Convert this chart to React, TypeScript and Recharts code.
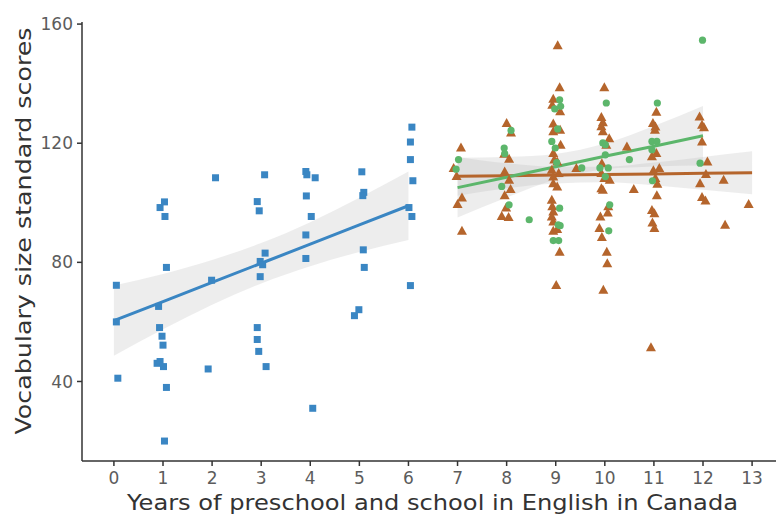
import React from "react";
import {
  ComposedChart,
  Scatter,
  Line,
  Area,
  XAxis,
  YAxis,
} from "recharts";

//========== Scores by years of schooling (x = years, y = score) ==========
const preschoolScores: [number, number][] = [
  [0.05, 72.3], [0.05, 60.0], [0.08, 41.1],
  [0.94, 98.4], [1.03, 100.3], [1.04, 95.4], [1.07, 78.3], [0.91, 65.2],
  [0.93, 58.1], [0.98, 55.2], [1.0, 52.2], [0.94, 46.7], [0.88, 46.1],
  [1.01, 45.0], [1.07, 38.0], [1.03, 20.0],
  [2.07, 108.4], [1.99, 74.0], [1.92, 44.2],
  [3.07, 109.4], [2.92, 100.4], [2.96, 97.3], [2.98, 80.3], [3.03, 79.2],
  [3.08, 83.1], [2.98, 75.2], [2.92, 58.1], [2.92, 54.1], [2.95, 50.1],
  [3.1, 45.0],
  [3.91, 110.5], [3.93, 109.4], [4.1, 108.4], [3.92, 102.3], [4.02, 95.4],
  [3.91, 89.2], [3.91, 81.3], [4.05, 31.0],
  [5.05, 110.4], [5.09, 103.5], [5.07, 102.4], [5.08, 84.2], [5.1, 78.3],
  [4.99, 64.1], [4.9, 62.1],
  [6.07, 125.4], [6.04, 120.4], [6.04, 114.5], [6.09, 107.4], [6.01, 98.4],
  [6.07, 95.4], [6.04, 72.2],
];

const schoolScoresA: [number, number][] = [
  [7.07, 118.6], [6.92, 111.7], [6.98, 109.0], [7.09, 101.8], [7.0, 99.6],
  [7.09, 90.6],
  [8.0, 126.8], [8.09, 123.6], [7.95, 116.5], [8.05, 114.8], [7.96, 110.5],
  [8.05, 107.7], [8.08, 104.6], [7.96, 102.5], [7.99, 98.4], [7.9, 95.6],
  [8.04, 95.2],
  [9.04, 152.9], [9.08, 138.8], [8.95, 134.9], [8.93, 132.9], [9.09, 130.7],
  [8.95, 126.6], [8.95, 124.0], [9.09, 124.5], [9.1, 119.5], [8.95, 116.7],
  [8.97, 114.5], [9.03, 113.9], [8.92, 111.1], [9.06, 110.0], [8.95, 108.8],
  [8.95, 106.6], [9.03, 105.5], [8.92, 101.0], [8.93, 98.8], [8.95, 97.1],
  [8.92, 95.4], [8.95, 93.7], [8.95, 90.6], [9.03, 91.2], [9.08, 83.6],
  [9.01, 72.4], [9.42, 111.7],
  [9.99, 138.8], [9.93, 128.8], [9.96, 127.0], [9.93, 125.7], [9.96, 124.0],
  [10.09, 121.7], [10.03, 119.5], [10.45, 118.9], [9.94, 113.3], [9.93, 110.0],
  [9.99, 108.3], [10.1, 107.7], [9.93, 104.9], [9.96, 104.4], [10.59, 104.6],
  [10.07, 98.8], [10.06, 96.7], [9.91, 95.4], [9.89, 91.5], [9.94, 88.5],
  [10.04, 83.6], [10.05, 79.7], [9.97, 70.8],
  [11.05, 130.6], [10.98, 126.8], [11.03, 125.6], [11.02, 124.5], [10.96, 115.6],
  [11.05, 116.7], [10.99, 110.9], [11.11, 111.7], [11.03, 108.3], [11.07, 106.4],
  [11.06, 102.5], [10.96, 97.6], [11.01, 96.5], [10.97, 93.4], [11.01, 91.5],
  [10.94, 51.5],
  [11.93, 129.0], [11.98, 126.2], [12.02, 125.4], [11.98, 120.6], [12.09, 113.9],
  [12.06, 109.7], [11.94, 106.6], [12.42, 107.7], [11.98, 101.9], [12.05, 100.8],
  [12.93, 99.6], [12.45, 92.6],
];

const schoolScoresB: [number, number][] = [
  [7.02, 114.5], [6.97, 111.3],
  [8.09, 124.3], [7.95, 118.4], [7.96, 116.5], [7.9, 105.5], [8.05, 99.3],
  [8.46, 94.3],
  [9.08, 134.6], [8.98, 131.5], [9.1, 132.4], [9.04, 124.8], [8.92, 120.6],
  [8.99, 118.4], [9.02, 113.5], [9.53, 111.7], [9.08, 98.2], [9.05, 92.6],
  [9.09, 92.3], [8.95, 87.3], [9.06, 87.3],
  [10.03, 133.5], [9.96, 120.1], [10.01, 119.5], [10.01, 116.1], [9.9, 111.7],
  [10.07, 111.7], [10.5, 114.5], [10.01, 108.8], [10.1, 99.3], [10.08, 90.6],
  [11.07, 133.5], [10.96, 120.6], [11.06, 120.6], [10.96, 117.8], [10.97, 107.4],
  [11.99, 154.6], [11.94, 113.3],
];

//========== Fitted lines with confidence bands (x, fit, lower, upper) ==========
const preschoolFit: [number, number, number, number][] = [
  [0, 60.4, 48.6, 72.2],
  [1, 66.8, 57.5, 76.1],
  [2, 73.3, 65.8, 80.8],
  [3, 79.7, 72.9, 86.5],
  [4, 86.1, 78.7, 93.5],
  [5, 92.6, 83.5, 101.7],
  [6, 99.0, 87.5, 110.5],
];

const schoolFitA: [number, number, number, number][] = [
  [7, 108.9, 102.4, 115.4],
  [8, 109.1, 104.9, 113.3],
  [9, 109.3, 106.5, 112.1],
  [10, 109.5, 106.9, 112.1],
  [11, 109.7, 105.9, 113.5],
  [12, 109.9, 104.4, 115.4],
  [13, 110.1, 102.9, 117.3],
];

const schoolFitB: [number, number, number, number][] = [
  [7, 105.1, 95.1, 115.1],
  [8, 108.6, 101.8, 115.4],
  [9, 112.1, 107.8, 116.4],
  [10, 115.6, 111.3, 119.9],
  [11, 119.0, 112.2, 125.8],
  [12, 122.5, 112.5, 132.5],
];

const xTicks = [0, 1, 2, 3, 4, 5, 6, 7, 8, 9, 10, 11, 12, 13];
const yTicks = [40, 80, 120, 160];

const BLUE = "#3a86c3";
const BROWN = "#b5652c";
const GREEN = "#5cb66b";
const FONT = "'DejaVu Sans', sans-serif";

const toPoints = (rows: [number, number][]) => rows.map(([x, y]) => ({ x, y }));
const toFit = (rows: [number, number, number, number][]) =>
  rows.map(([x, y, lo, hi]) => ({ x, y, band: [lo, hi] }));

//========== Marker shapes ==========
const SquareMark = (props: any) => (
  <rect x={props.cx - 3.5} y={props.cy - 3.5} width={7} height={7} fill={BLUE} />
);
const TriangleMark = (props: any) => (
  <path
    d={`M${props.cx},${props.cy - 5} L${props.cx + 5},${props.cy + 4} L${props.cx - 5},${props.cy + 4} Z`}
    fill={BROWN}
  />
);
const CircleMark = (props: any) => (
  <circle cx={props.cx} cy={props.cy} r={3.6} fill={GREEN} />
);

const tickStyle = { fontFamily: FONT, fontSize: 17, fill: "#5c5c5c" };

const App: React.FC = () => {
  return (
    <div
      style={{
        position: "fixed",
        left: 0,
        top: 0,
        width: 776,
        height: 516,
        overflow: "hidden",
        background: "#fff",
      }}
    >
      <ComposedChart
        width={800}
        height={516}
        margin={{ top: 22, right: 16, bottom: 0, left: 0 }}
      >
        <XAxis
          type="number"
          dataKey="x"
          domain={[-0.65, 13.65]}
          ticks={xTicks}
          allowDataOverflow
          height={55}
          tickSize={5}
          tickMargin={6}
          tick={tickStyle}
          stroke="#333"
          strokeWidth={1.5}
        />
        <YAxis
          type="number"
          dataKey="y"
          domain={[13.3, 160.7]}
          ticks={yTicks}
          allowDataOverflow
          width={82}
          tickSize={5}
          tickMargin={4}
          tick={tickStyle}
          stroke="#333"
          strokeWidth={1.5}
        />

        {/*========== Points ==========*/}
        <Scatter data={toPoints(preschoolScores)} dataKey="y" shape={SquareMark} isAnimationActive={false} />
        <Scatter data={toPoints(schoolScoresA)} dataKey="y" shape={TriangleMark} isAnimationActive={false} />
        <Scatter data={toPoints(schoolScoresB)} dataKey="y" shape={CircleMark} isAnimationActive={false} />

        {/*========== Confidence bands ==========*/}
        <Area data={toFit(preschoolFit)} dataKey="band" type="monotone" stroke="none" fill="#b8b8b8" fillOpacity={0.25} isAnimationActive={false} />
        <Area data={toFit(schoolFitA)} dataKey="band" type="monotone" stroke="none" fill="#b8b8b8" fillOpacity={0.25} isAnimationActive={false} />
        <Area data={toFit(schoolFitB)} dataKey="band" type="monotone" stroke="none" fill="#b8b8b8" fillOpacity={0.25} isAnimationActive={false} />

        {/*========== Fitted lines ==========*/}
        <Line data={toFit(preschoolFit)} dataKey="y" stroke={BLUE} strokeWidth={3} dot={false} activeDot={false} isAnimationActive={false} />
        <Line data={toFit(schoolFitA)} dataKey="y" stroke={BROWN} strokeWidth={3} dot={false} activeDot={false} isAnimationActive={false} />
        <Line data={toFit(schoolFitB)} dataKey="y" stroke={GREEN} strokeWidth={3} dot={false} activeDot={false} isAnimationActive={false} />
      </ComposedChart>

      {/*========== Axis titles ==========*/}
      <svg width={776} height={516} style={{ position: "absolute", left: 0, top: 0, pointerEvents: "none" }}>
        <text
          x={432.5}
          y={510}
          textAnchor="middle"
          fontFamily={FONT}
          fontSize={21}
          fill="#333"
          textLength={611}
          lengthAdjust="spacingAndGlyphs"
        >
          Years of preschool and school in English in Canada
        </text>
        <text
          transform="translate(31,231) rotate(-90)"
          textAnchor="middle"
          fontFamily={FONT}
          fontSize={21}
          fill="#333"
          textLength={407}
          lengthAdjust="spacingAndGlyphs"
        >
          Vocabulary size standard scores
        </text>
      </svg>
    </div>
  );
};

export default App;
